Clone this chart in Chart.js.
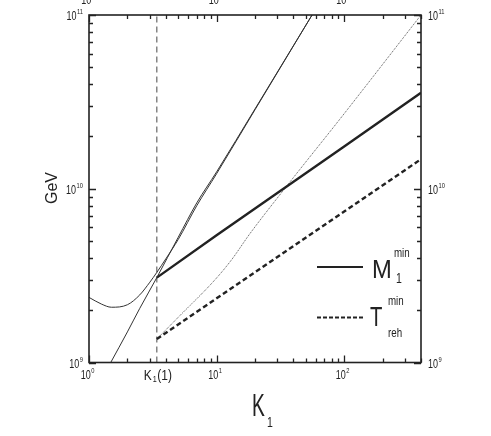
<!DOCTYPE html>
<html>
<head>
<meta charset="utf-8">
<script src="https://cdn.jsdelivr.net/npm/chart.js@4.4.1/dist/chart.umd.min.js"></script>
<style>
  html, body { margin: 0; padding: 0; background: #fff; }
</style>
</head>
<body>
<canvas id="c" width="491" height="436"></canvas>
<script>
// axis ranges
const xMin = 1, xMax = 400, yMin = 1e9, yMax = 1e11;
const K1_1 = 3.4; // K_1(1), dashed vertical line
const xDecades = [1, 10, 100];
const xDecadeExp = ['0', '1', '2'];
const yDecades = [1e9, 1e10, 1e11];
const yDecadeExp = ['9', '10', '11'];

// thin U-shaped curve
const kU = [1, 1.25, 1.5, 2, 2.5, 3, 3.4, 4, 5, 7, 10, 20, 56];
const mU = [2.37e9, 2.17e9, 2.08e9, 2.15e9, 2.45e9, 2.9e9, 3.3e9, 3.95e9, 5.1e9, 8.0e9, 1.22e10, 2.85e10, 1.0e11];
// thin steep curve from the bottom
const kS = [1.48, 2, 2.5, 3.4, 5, 7, 10, 20, 56];
const mS = [1.0e9, 1.5e9, 2.05e9, 3.08e9, 5.25e9, 8.3e9, 1.25e10, 2.88e10, 1.0e11];
// M1 min and T reh min
const kLine = [3.4, 10, 100, 400];
const m1min = [3.08e9, 5.4e9, 1.75e10, 3.57e10];
const trehMin = [1.365e9, 2.34e9, 7.4e9, 1.48e10];
// thin dotted curve
const kDot = [3.4, 5, 9.7, 13.1, 18.2, 37.8, 92.7, 400];
const mDot = [1.365e9, 1.82e9, 2.99e9, 3.9e9, 5.5e9, 1.1e10, 2.52e10, 1.0e11];

const pts = (xs, ys) => xs.map((x, i) => ({x: x, y: ys[i]}));
const FONT = '"Liberation Sans", Arial, sans-serif';

function narrow(ctx, t, x, y, size, sx) {
  ctx.save();
  ctx.font = size + 'px ' + FONT;
  ctx.translate(x, y);
  ctx.scale(sx, 1);
  ctx.textAlign = 'left';
  ctx.textBaseline = 'alphabetic';
  ctx.fillText(t, 0, 0);
  ctx.restore();
}
function textW(ctx, t, size, sx) {
  ctx.font = size + 'px ' + FONT;
  return ctx.measureText(t).width * sx;
}
// "10" with a raised exponent
function power(ctx, exp, x, y, align) {
  const size = 12.5, sx = 0.72, es = 8;
  const wb = textW(ctx, '10', size, sx);
  const we = textW(ctx, exp, es, sx);
  const w = wb + we + 0.5;
  let x0 = x;
  if (align === 'center') x0 = x - w / 2;
  if (align === 'right') x0 = x - w;
  narrow(ctx, '10', x0, y, size, sx);
  narrow(ctx, exp, x0 + wb + 0.5, y - 6, es, sx);
}

const decor = {
  id: 'decor',
  afterDraw(chart) {
    const ctx = chart.ctx, a = chart.chartArea;
    const xs = chart.scales.x, ys = chart.scales.y;
    ctx.save();
    ctx.strokeStyle = '#222';
    ctx.fillStyle = '#222';
    ctx.lineWidth = 1.6;
    ctx.strokeRect(a.left, a.top, a.right - a.left, a.bottom - a.top);

    // inward ticks
    ctx.lineWidth = 1.3;
    ctx.beginPath();
    xDecades.forEach(d => {
      for (let m = 1; m < 10; m++) {
        const v = d * m;
        if (v < xMin || v > xMax) continue;
        const p = Math.round(xs.getPixelForValue(v)) + 0.5;
        const len = m === 1 ? 7 : 4;
        ctx.moveTo(p, a.bottom); ctx.lineTo(p, a.bottom - len);
        ctx.moveTo(p, a.top); ctx.lineTo(p, a.top + len);
      }
    });
    yDecades.forEach(d => {
      for (let m = 1; m < 10; m++) {
        const v = d * m;
        if (v < yMin || v > yMax) continue;
        const p = Math.round(ys.getPixelForValue(v)) + 0.5;
        const len = m === 1 ? 7 : 4;
        ctx.moveTo(a.left, p); ctx.lineTo(a.left + len, p);
        ctx.moveTo(a.right, p); ctx.lineTo(a.right - len, p);
      }
    });
    ctx.stroke();

    // tick labels
    xDecades.forEach((d, i) => {
      const p = xs.getPixelForValue(d);
      power(ctx, xDecadeExp[i], p - 1.5, 379, 'center');
      power(ctx, xDecadeExp[i], p - 1, 4, 'center'); // top labels cut by the edge
    });
    yDecades.forEach((d, i) => {
      const p = ys.getPixelForValue(d);
      power(ctx, yDecadeExp[i], a.left - 6, p + 5, 'right');
      power(ctx, yDecadeExp[i], a.right + 7, p + 5, 'left');
    });
    // K1(1) label
    const pk = xs.getPixelForValue(K1_1);
    narrow(ctx, 'K', pk - 13, 380, 15, 0.8);
    narrow(ctx, '1', pk - 4, 382, 9, 0.8);
    narrow(ctx, '(1)', pk + 0.5, 380, 15, 0.8);

    // axis titles
    narrow(ctx, 'K', 252, 416, 31, 0.62);
    narrow(ctx, '1', 267, 427, 15, 0.7);
    ctx.save();
    ctx.translate(57, 188);
    ctx.rotate(-Math.PI / 2);
    ctx.font = '16px ' + FONT;
    ctx.textAlign = 'center';
    ctx.fillText('GeV', 0, 0);
    ctx.restore();

    // legend
    ctx.lineWidth = 2.2;
    ctx.beginPath();
    ctx.moveTo(317, 267); ctx.lineTo(363, 267);
    ctx.stroke();
    ctx.setLineDash([4, 2]);
    ctx.beginPath();
    ctx.moveTo(317, 317.5); ctx.lineTo(363, 317.5);
    ctx.stroke();
    ctx.setLineDash([]);
    narrow(ctx, 'M', 372, 278, 25, 0.95);
    narrow(ctx, 'min', 394, 257, 13, 0.75);
    narrow(ctx, '1', 396, 283, 14, 0.75);
    narrow(ctx, 'T', 370, 326, 27, 0.75);
    narrow(ctx, 'min', 388, 305, 13, 0.75);
    narrow(ctx, 'reh', 388, 337, 13, 0.75);
    ctx.restore();
  }
};

const thin = {borderColor: '#333', borderWidth: 1, pointRadius: 0, cubicInterpolationMode: 'monotone'};

new Chart(document.getElementById('c').getContext('2d'), {
  type: 'line',
  data: {
    datasets: [
      Object.assign({data: pts(kU, mU)}, thin),
      Object.assign({data: pts(kS, mS)}, thin),
      {data: pts(kLine, m1min), borderColor: '#222', borderWidth: 2.4, pointRadius: 0},
      {data: pts(kLine, trehMin), borderColor: '#222', borderWidth: 2.4, borderDash: [5, 3], pointRadius: 0},
      {data: pts(kDot, mDot), borderColor: '#555', borderWidth: 1, borderDash: [1, 1], pointRadius: 0, cubicInterpolationMode: 'monotone'},
      {data: [{x: K1_1, y: yMin}, {x: K1_1, y: yMax}], borderColor: '#666', borderWidth: 1.2, borderDash: [6, 4], pointRadius: 0}
    ]
  },
  options: {
    responsive: false,
    devicePixelRatio: 1,
    animation: false,
    layout: {padding: {left: 89, top: 15, right: 70, bottom: 73.5}},
    plugins: {legend: {display: false}, tooltip: {enabled: false}},
    scales: {
      x: {type: 'logarithmic', min: xMin, max: xMax, ticks: {display: false}, grid: {display: false}, border: {display: false},
          afterFit(s) { s.height = 0; }},
      y: {type: 'logarithmic', min: yMin, max: yMax, ticks: {display: false}, grid: {display: false}, border: {display: false},
          afterFit(s) { s.width = 0; }}
    }
  },
  plugins: [decor]
});
</script>
</body>
</html>
